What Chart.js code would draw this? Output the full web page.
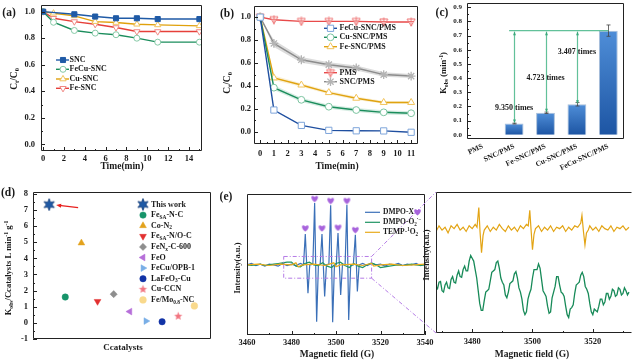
<!DOCTYPE html>
<html>
<head>
<meta charset="utf-8">
<script src="https://cdn.jsdelivr.net/npm/chart.js@4.4.1/dist/chart.umd.min.js"></script>
<style>
body{margin:0;background:#fff}
#fig{position:relative;width:633px;height:363px;overflow:hidden;background:#fff}
canvas{position:absolute}
</style>
</head>
<body>
<div id="fig">
<canvas id="ca" width="215" height="185" style="left:0;top:0"></canvas>
<canvas id="cb" width="210" height="185" style="left:215px;top:0"></canvas>
<canvas id="cc" width="208" height="185" style="left:425px;top:0"></canvas>
<canvas id="cd" width="217" height="178" style="left:0;top:185px"></canvas>
<canvas id="ce2" width="218" height="178" style="left:415px;top:185px"></canvas>
<canvas id="ce1" width="222" height="178" style="left:215px;top:185px"></canvas>
</div>
<script>
// (a) adsorption, Ct/C0 vs time
const tA = [0, 1, 3, 5, 7, 9, 11, 15];
const sncA = [1.0, null, 0.98, 0.963, 0.95, 0.95, 0.944, 0.944];
const fecuA = [1.0, 0.92, 0.858, 0.838, 0.826, 0.80, 0.77, 0.77];
const cuA = [1.0, 0.988, 0.968, 0.925, 0.918, 0.905, 0.90, 0.893];
const feA = [1.0, 0.95, 0.925, 0.905, 0.88, 0.85, 0.85, 0.85];

// (b) degradation with PMS
const tB = [0, 1, 3, 5, 7, 9, 11];
const pmsB = [1.0, 0.978, 0.963, 0.963, 0.963, 0.958, 0.958];
const sncB = [1.0, 0.771, 0.629, 0.586, 0.557, 0.50, 0.487];
const feB = [1.0, 0.471, 0.409, 0.343, 0.294, 0.257, 0.257];
const cuB = [1.0, 0.386, 0.28, 0.22, 0.191, 0.171, 0.163];
const fecuB = [1.0, 0.191, 0.057, 0.014, 0.01, 0.009, -0.003];
const sncErrB = [0, 0.03, 0.025, 0.022, 0.022, 0.02, 0.018];
const feErrB = [0, 0.02, 0.015, 0.015, 0.015, 0.012, 0.012];
const cuErrB = [0, 0.02, 0.018, 0.018, 0.018, 0.018, 0.018];

// (c) rate constants
const cats = ['PMS', 'SNC/PMS', 'Fe-SNC/PMS', 'Cu-SNC/PMS', 'FeCu-SNC/PMS'];
const kobs = [0, 0.079, 0.155, 0.215, 0.735];
const kErr = [0, 0.003, 0.005, 0.012, 0.04];
const ratioText = ['9.350 times', '4.723 times', '3.407 times'];

// (d) comparison with literature
const refNames = ['This work', 'FeSA-N-C', 'Co-N2', 'FeSA-N/O-C', 'FeNx-C-600', 'FeO', 'FeCu/OPB-1', 'LaFeO3-Cu', 'Cu-CCN', 'Fe/Mo0.8-NC'];
const refK = [7.33, 1.6, 4.95, 1.33, 1.78, 0.7, 0.11, 0.07, 0.41, 1.05];

// (e) EPR, full sweep
const dxG = [3460,3462,3464,3466,3468,3470,3472,3474,3476,3478,3480,3482,3484,3485.4,3486.2,3487.4,3488.2,3489.6,3490.4,3491.3,3492.1,3492.9,3493.7,3494.9,3495.7,3496.8,3497.6,3498.5,3499.3,3500.1,3500.9,3502.1,3502.9,3504.1,3504.9,3505.7,3506.6,3507.8,3508.7,3509.6,3510.4,3512,3514,3516,3518,3520,3522,3524,3526,3528,3530,3532,3534,3536,3538,3540];
const dxY = [0,0.02,-0.01,0.01,-0.02,0.01,0,-0.02,0.02,-0.01,0.01,-0.01,0.02,0,0.46,-0.425,0,0.01,0.925,-0.85,0,0.01,0.46,-0.475,0,0.01,0.89,-0.86,0,0,0.475,-0.45,0,0.01,0.9,-0.825,0,0,0.45,-0.4,0,0.02,-0.01,0.02,0,0.01,-0.02,0.01,0,0.02,-0.01,0.01,0,0.02,-0.01,0.01];
const doG = [3460,3462,3464,3466,3468,3470,3472,3474,3476,3478,3480,3482,3484,3486,3488,3490,3492,3494,3496,3498,3500,3502,3504,3506,3508,3510,3512,3514,3516,3518,3520,3522,3524,3526,3528,3530,3532,3534,3536,3538,3540];
const doY = [0,-0.01,0,0.01,-0.01,0,0.01,0.02,0.03,0.04,0.04,-0.02,-0.03,0.02,0.04,0,-0.01,0.03,-0.02,-0.04,0.02,0.04,-0.01,-0.04,0.02,-0.02,-0.04,0,0.03,0,-0.04,-0.03,-0.02,-0.01,0,-0.01,0,0.01,0,-0.01,0];
const tpG = [3460,3465,3470,3475,3480,3482,3483,3485,3490,3495,3499,3500,3502,3508,3512,3516,3517,3520,3525,3530,3535,3540];
const tpY = [0,0.01,-0.01,0.01,0,0.03,-0.03,0,0.01,-0.01,0.03,-0.03,0,0.01,-0.01,0.02,-0.02,0,0.01,-0.01,0,0.01];
const heartG = [3486.2, 3490.4, 3493.7, 3497.6, 3500.9, 3504.9, 3508.7];
const heartY = [0.55, 0.99, 0.55, 0.96, 0.56, 0.96, 0.525];

// (e) EPR, zoomed window
const zStart = 3468, zStep = 0.5;
const zGreen = [3.3,3.15,3.6,3.65,3.0,2.9,3.4,3.6,3.2,3.15,3.8,4.0,3.6,3.55,4.1,4.4,4.0,3.95,4.5,4.75,4.4,4.4,5.1,5.5,5.3,5.1,4.5,3.9,3.0,2.1,1.6,1.6,2.3,2.9,3.0,3.1,3.7,4.3,4.4,4.5,5.0,5.1,4.6,3.9,3.6,3.4,2.7,2.5,2.9,3.5,3.6,3.7,4.2,4.35,3.9,3.2,2.9,2.4,1.6,1.3,1.5,2.4,2.8,3.1,3.9,4.5,4.5,4.5,4.9,4.6,3.8,3.0,2.8,2.6,1.9,1.4,1.5,2.5,2.9,3.3,4.0,4.0,3.4,2.9,2.8,2.6,1.9,1.3,1.1,1.7,1.8,2.0,2.8,3.4,3.5,3.6,4.1,4.3,4.0,3.3,3.1,2.8,2.1,1.5,1.3,1.7,1.6,1.5,1.9,2.4,2.4,2.0,2.2,2.8,2.8,2.4,2.6,3.1,3.0,2.6,2.7,3.2,3.1,2.7,2.8,3.2,3.0,2.7,2.9];
const zOrG = [3468,3469,3470,3471,3472,3473,3474,3475,3476,3477,3478,3479,3480,3481,3481.6,3482.2,3482.6,3483.1,3483.6,3484,3485,3486,3487,3488,3489,3490,3491,3492,3493,3494,3495,3496,3497,3498,3498.6,3499.1,3499.5,3500,3500.5,3501,3502,3503,3504,3505,3506,3507,3508,3509,3510,3511,3512,3513,3514,3515,3516,3516.4,3516.9,3517.4,3517.9,3518.5,3519,3520,3521,3522,3523,3524,3525,3526,3527,3528,3529,3530,3531,3532];
const zOrY = [7.2,7.6,7.3,7.5,7.1,7.6,7.4,7.7,7.3,7.5,7.2,7.6,7.4,7.7,7.5,8.9,7.2,5.7,6.9,7.3,7.6,7.2,7.5,7.3,7.7,7.4,7.2,7.6,7.3,7.5,7.2,7.6,7.4,7.7,7.6,8.7,7.4,5.9,7.0,7.4,7.6,7.2,7.5,7.3,7.6,7.2,7.5,7.4,7.6,7.2,7.5,7.3,7.6,7.5,7.8,8.35,7.2,6.25,7.1,7.3,7.6,7.3,7.5,7.2,7.6,7.4,7.3,7.6,7.2,7.5,7.4,7.6,7.3,7.5];

const F = '"Liberation Serif", "Times New Roman", serif';
Chart.defaults.font.family = F;
Chart.defaults.font.weight = 'bold';
Chart.defaults.color = '#1a1a1a';
Chart.defaults.animation = false;
Chart.defaults.responsive = false;
Chart.defaults.devicePixelRatio = 1;
Chart.defaults.plugins.legend.display = false;
Chart.defaults.plugins.tooltip.enabled = false;

const pts = (xs, ys) => xs.map((x, i) => ({ x: x, y: ys[i] }));
const every = m => v => Math.abs(v / m - Math.round(v / m)) < 1e-6;
const noGrid = { display: false, drawTicks: false };
// fixed axis boxes so each plot frame lands where the reference has it
const fitW = w => s => { s.width = w; s.paddingTop = 0; s.paddingBottom = 0; s.paddingLeft = 0; s.paddingRight = 0; };
const fitH = h => s => { s.height = h; s.paddingTop = 0; s.paddingBottom = 0; s.paddingLeft = 0; s.paddingRight = 0; };

function mkImg(w, h, draw) {
  const c = document.createElement('canvas');
  c.width = w; c.height = h;
  draw(c.getContext('2d'), w, h);
  return c;
}
function starImg(n, R, r, fill, stroke) {
  const s = Math.ceil(2 * R + 2);
  return mkImg(s, s, g => {
    g.beginPath();
    for (let k = 0; k < 2 * n; k++) {
      const ang = -Math.PI / 2 + k * Math.PI / n, rr = k % 2 ? r : R;
      g.lineTo(s / 2 + rr * Math.cos(ang), s / 2 + rr * Math.sin(ang));
    }
    g.closePath(); g.fillStyle = fill; g.fill();
    if (stroke) { g.strokeStyle = stroke; g.lineWidth = 0.8; g.stroke(); }
  });
}
const heartImg = mkImg(9, 8, g => {
  g.fillStyle = '#a763dc';
  g.beginPath();
  g.moveTo(4.5, 7.6);
  g.bezierCurveTo(-0.6, 4, 0.8, -0.9, 4.5, 2.2);
  g.bezierCurveTo(8.2, -0.9, 9.6, 4, 4.5, 7.6);
  g.fill();
});
const pmsImg = mkImg(10, 10, g => {
  g.strokeStyle = '#ee7272'; g.fillStyle = '#fff'; g.lineWidth = 1;
  g.beginPath(); g.moveTo(1, 2); g.lineTo(9, 2); g.lineTo(5, 9); g.closePath(); g.fill(); g.stroke();
  g.beginPath(); g.moveTo(5, 0.5); g.lineTo(5, 9.5); g.moveTo(2, 4.5); g.lineTo(8, 4.5); g.stroke();
});
const star6 = starImg(6, 6, 2.8, '#1f5aa6', '#173f7a');
const star5 = starImg(5, 4.4, 1.9, '#f27480', null);

function rich(ctx, parts, x, y, size, opt) {
  opt = opt || {};
  ctx.save();
  ctx.translate(x, y);
  if (opt.rot) ctx.rotate(opt.rot);
  const segs = parts.map(p => typeof p === 'string' ? { t: p, m: '' } : { t: p[0], m: p[1] });
  const fnt = m => 'bold ' + (m ? size * 0.68 : size) + 'px ' + F;
  let w = 0;
  segs.forEach(s => { ctx.font = fnt(s.m); s.w = ctx.measureText(s.t).width; w += s.w; });
  let cx = opt.align === 'left' ? 0 : opt.align === 'right' ? -w : -w / 2;
  ctx.textAlign = 'left'; ctx.textBaseline = 'middle';
  ctx.fillStyle = opt.color || '#1a1a1a';
  segs.forEach(s => {
    ctx.font = fnt(s.m);
    const dy = s.m === 'sub' ? size * 0.28 : s.m === 'sup' ? -size * 0.32 : 0;
    ctx.fillText(s.t, cx, dy);
    cx += s.w;
  });
  ctx.restore();
}

function box(chart, sides) {
  sides = sides || 'ltrb';
  const a = chart.chartArea, ctx = chart.ctx;
  const l = Math.round(a.left) + 0.5, r = Math.round(a.right) - 0.5;
  const t = Math.round(a.top) + 0.5, b = Math.round(a.bottom) - 0.5;
  ctx.save(); ctx.strokeStyle = '#222'; ctx.lineWidth = 1; ctx.beginPath();
  if (sides.includes('l')) { ctx.moveTo(l, t); ctx.lineTo(l, b); }
  if (sides.includes('r')) { ctx.moveTo(r, t); ctx.lineTo(r, b); }
  if (sides.includes('t')) { ctx.moveTo(l, t); ctx.lineTo(r, t); }
  if (sides.includes('b')) { ctx.moveTo(l, b); ctx.lineTo(r, b); }
  ctx.stroke(); ctx.restore();
}

function ticksOn(chart, id, from, to, step, isMajor, maj, min) {
  maj = maj || 4; min = min || 2;
  const s = chart.scales[id], a = chart.chartArea, ctx = chart.ctx;
  ctx.save(); ctx.strokeStyle = '#222'; ctx.lineWidth = 1; ctx.beginPath();
  const n = Math.round((to - from) / step);
  for (let k = 0; k <= n; k++) {
    const v = from + k * step;
    const len = isMajor(v) ? maj : min;
    const p = Math.round(s.getPixelForValue(v)) + 0.5;
    if (s.isHorizontal()) { ctx.moveTo(p, a.bottom); ctx.lineTo(p, a.bottom - len); }
    else { ctx.moveTo(a.left, p); ctx.lineTo(a.left + len, p); }
  }
  ctx.stroke(); ctx.restore();
}

function legendRow(chart, label, o) {
  const ctx = chart.ctx;
  const ds = chart.data.datasets.find(d => d.label === label);
  if (o.x1 > o.x0) {
    ctx.save(); ctx.strokeStyle = ds.borderColor; ctx.lineWidth = ds.borderWidth || 1.4;
    ctx.beginPath(); ctx.moveTo(o.x0, o.y); ctx.lineTo(o.x1, o.y); ctx.stroke(); ctx.restore();
  }
  if (o.mx != null && ds.pointStyle) {
    ctx.save();
    ctx.fillStyle = ds.pointBackgroundColor; ctx.strokeStyle = ds.pointBorderColor;
    ctx.lineWidth = ds.pointBorderWidth || 1;
    Chart.helpers.drawPoint(ctx, { pointStyle: ds.pointStyle, rotation: ds.pointRotation || 0, radius: ds.pointRadius, borderWidth: ds.pointBorderWidth || 1 }, o.mx, o.y);
    ctx.restore();
  }
  rich(ctx, o.parts, o.tx, o.y, o.size, { align: 'left' });
}

function head(ctx, x, y, dir, w, h) {
  ctx.beginPath();
  ctx.moveTo(x, y);
  ctx.lineTo(x - w / 2, y - dir * h);
  ctx.lineTo(x + w / 2, y - dir * h);
  ctx.closePath(); ctx.fill();
}

const deco = draw => ({ id: 'deco', afterDraw: chart => { chart.ctx.save(); draw(chart, chart.ctx); chart.ctx.restore(); } });

function lineDs(label, xs, ys, st) {
  return Object.assign({ label: label, data: pts(xs, ys), borderWidth: 1.4, tension: 0, spanGaps: true, pointBorderWidth: 1 }, st);
}

// ---------- (a)
new Chart(document.getElementById('ca'), {
  type: 'line',
  data: {
    datasets: [
      lineDs('SNC', tA, sncA, { borderColor: '#1f5aa6', pointStyle: 'rect', pointRadius: 3.6, pointBackgroundColor: '#1f5aa6', pointBorderColor: '#1f5aa6' }),
      lineDs('FeCu-SNC', tA, fecuA, { borderColor: '#1b8d5c', pointStyle: 'circle', pointRadius: 3, pointBackgroundColor: '#fff', pointBorderColor: '#86c9a6' }),
      lineDs('Cu-SNC', tA, cuA, { borderColor: '#e0a10c', pointStyle: 'triangle', pointRadius: 3.6, pointBackgroundColor: '#fff', pointBorderColor: '#f0c35c' }),
      lineDs('Fe-SNC', tA, feA, { borderColor: '#e6403a', pointStyle: 'triangle', pointRotation: 180, pointRadius: 3.6, pointBackgroundColor: '#fff', pointBorderColor: '#f08984' })
    ]
  },
  options: {
    layout: { padding: { left: 0, top: 4, right: 13, bottom: 0 } },
    scales: {
      x: { type: 'linear', min: -0.2, max: 15.25, afterFit: fitH(34), grid: noGrid, border: { display: false },
        ticks: { stepSize: 2, includeBounds: false, padding: 3, font: { size: 8.5 } } },
      y: { min: -0.05, max: 1.05, afterFit: fitW(41), grid: noGrid, border: { display: false },
        ticks: { stepSize: 0.2, includeBounds: false, padding: 6, font: { size: 8.5 }, callback: v => v.toFixed(1) } }
    }
  },
  plugins: [deco((chart, ctx) => {
    box(chart);
    ticksOn(chart, 'x', 0, 15, 1, every(2));
    ticksOn(chart, 'y', 0, 1, 0.1, every(0.2));
    rich(ctx, ['(a)'], 9, 13, 11.5);
    rich(ctx, ['Time(min)'], 122, 167, 9.5);
    rich(ctx, ['C', ['t', 'sub'], '/C', ['0', 'sub']], 15, 79, 9.5, { rot: -Math.PI / 2 });
    const rows = [['SNC', 60], ['FeCu-SNC', 69.3], ['Cu-SNC', 79], ['Fe-SNC', 88.3]];
    rows.forEach(r => legendRow(chart, r[0], { x0: 56, x1: 69, mx: 63, tx: 69.5, y: r[1], parts: [r[0]], size: 8 }));
  })]
});

// ---------- (b)
const band = (ys, err, sign) => ys.map((v, i) => v + sign * err[i]);
new Chart(document.getElementById('cb'), {
  type: 'line',
  data: {
    datasets: [
      lineDs('FeCu-SNC/PMS', tB, fecuB, { borderColor: '#1f4fa0', pointStyle: 'rect', pointRadius: 4.4, pointBackgroundColor: '#fff', pointBorderColor: '#7ea5da' }),
      lineDs('Cu-SNC/PMS', tB, cuB, { borderColor: '#1b8d5c', pointStyle: 'circle', pointRadius: 3.4, pointBackgroundColor: '#fff', pointBorderColor: '#7cc4a0' }),
      lineDs('Fe-SNC/PMS', tB, feB, { borderColor: '#e0a310', pointStyle: 'triangle', pointRadius: 4, pointBackgroundColor: '#fff', pointBorderColor: '#f2c35a' }),
      lineDs('PMS', tB, pmsB, { borderColor: '#e84a4a', pointStyle: pmsImg, pointRadius: 4 }),
      lineDs('SNC/PMS', tB, sncB, { borderColor: '#8c8c8c', pointStyle: 'star', pointRadius: 4.4, pointBorderWidth: 1.3, pointBackgroundColor: '#fff', pointBorderColor: '#b4b4b4' }),
      { label: 'sncUp', data: pts(tB, band(sncB, sncErrB, 1)), borderWidth: 0, pointRadius: 0, fill: '+1', backgroundColor: 'rgba(140,140,140,0.3)' },
      { label: 'sncLo', data: pts(tB, band(sncB, sncErrB, -1)), borderWidth: 0, pointRadius: 0 },
      { label: 'cuUp', data: pts(tB, band(cuB, cuErrB, 1)), borderWidth: 0, pointRadius: 0, fill: '+1', backgroundColor: 'rgba(30,150,95,0.18)' },
      { label: 'cuLo', data: pts(tB, band(cuB, cuErrB, -1)), borderWidth: 0, pointRadius: 0 },
      { label: 'feUp', data: pts(tB, band(feB, feErrB, 1)), borderWidth: 0, pointRadius: 0, fill: '+1', backgroundColor: 'rgba(230,170,30,0.18)' },
      { label: 'feLo', data: pts(tB, band(feB, feErrB, -1)), borderWidth: 0, pointRadius: 0 }
    ]
  },
  options: {
    layout: { padding: { left: 0, top: 3, right: 7, bottom: 0 } },
    scales: {
      x: { type: 'linear', min: -0.45, max: 11.5, afterFit: fitH(41), grid: noGrid, border: { display: false },
        ticks: { stepSize: 1, includeBounds: false, padding: 5, font: { size: 8.5 } } },
      y: { min: -0.105, max: 1.1, afterFit: fitW(39), grid: noGrid, border: { display: false },
        ticks: { stepSize: 0.2, includeBounds: false, padding: 3, font: { size: 8.5 }, callback: v => v.toFixed(1) } }
    }
  },
  plugins: [deco((chart, ctx) => {
    box(chart);
    ticksOn(chart, 'x', 0, 11, 0.5, every(1));
    ticksOn(chart, 'y', 0, 1, 0.1, every(0.2));
    rich(ctx, ['(b)'], 12, 14, 11.5);
    rich(ctx, ['Time(min)'], 122, 167, 9.5);
    rich(ctx, ['C', ['t', 'sub'], '/C', ['0', 'sub']], 13, 83, 9.5, { rot: -Math.PI / 2 });
    const rows = [['FeCu-SNC/PMS', 28.3], ['Cu-SNC/PMS', 37.3], ['Fe-SNC/PMS', 46.7], ['PMS', 72.7], ['SNC/PMS', 81.7]];
    rows.forEach(r => legendRow(chart, r[0], { x0: 109, x1: 122, mx: 115.5, tx: 124.5, y: r[1], parts: [r[0]], size: 8 }));
  })]
});

// ---------- (c)
new Chart(document.getElementById('cc'), {
  type: 'bar',
  data: {
    labels: cats,
    datasets: [{
      label: 'kobs', data: kobs, borderColor: '#a9bfd9', borderWidth: 1, barPercentage: 0.6, categoryPercentage: 1,
      backgroundColor: c => {
        const ch = c.chart, ys = ch.scales.y;
        if (!ys || c.raw == null) return '#2f6cb8';
        const y0 = ys.getPixelForValue(c.raw), y1 = ys.getPixelForValue(0);
        if (!isFinite(y0) || !isFinite(y1) || y0 === y1) return '#2f6cb8';
        const g = ch.ctx.createLinearGradient(0, y0, 0, y1);
        g.addColorStop(0, '#4f8ed8'); g.addColorStop(1, '#1d55a3');
        return g;
      }
    }]
  },
  options: {
    layout: { padding: { left: 0, top: 3, right: 9, bottom: 0 } },
    scales: {
      x: { afterFit: fitH(46), grid: noGrid, border: { display: false },
        ticks: { minRotation: 25, maxRotation: 25, autoSkip: false, padding: 3, font: { size: 7.5 } } },
      y: { min: -0.03, max: 0.93, afterFit: fitW(42), grid: noGrid, border: { display: false },
        ticks: { stepSize: 0.1, includeBounds: false, padding: 5, font: { size: 7 }, callback: v => v.toFixed(1) } }
    }
  },
  plugins: [deco((chart, ctx) => {
    const xs = chart.scales.x, ys = chart.scales.y;
    box(chart);
    ticksOn(chart, 'y', 0, 0.9, 0.05, every(0.1));
    ctx.strokeStyle = '#444'; ctx.lineWidth = 0.8;
    kobs.forEach((v, i) => {
      if (!kErr[i]) return;
      const x = Math.round(xs.getPixelForValue(i)) + 0.5;
      const y0 = ys.getPixelForValue(v - kErr[i]), y1 = ys.getPixelForValue(v + kErr[i]);
      ctx.beginPath();
      ctx.moveTo(x, y0); ctx.lineTo(x, y1);
      ctx.moveTo(x - 2, y0); ctx.lineTo(x + 2, y0);
      ctx.moveTo(x - 2, y1); ctx.lineTo(x + 2, y1);
      ctx.stroke();
    });
    const top = ys.getPixelForValue(kobs[4]);
    ctx.strokeStyle = 'rgba(70,182,136,0.85)'; ctx.fillStyle = 'rgba(55,165,120,0.95)'; ctx.lineWidth = 1.2;
    ctx.beginPath(); ctx.moveTo(xs.getPixelForValue(1) - 5, top); ctx.lineTo(xs.getPixelForValue(4), top); ctx.stroke();
    const textY = [108.3, 78.3, 51.7];
    for (let i = 1; i <= 3; i++) {
      const x = Math.round(xs.getPixelForValue(i)) + 0.5, yb = ys.getPixelForValue(kobs[i]);
      ctx.beginPath(); ctx.moveTo(x, top + 1); ctx.lineTo(x, yb - 1); ctx.stroke();
      head(ctx, x, top + 1, -1, 3, 3.5);
      head(ctx, x, yb - 0.5, 1, 3, 3.5);
      rich(ctx, [ratioText[i - 1]], xs.getPixelForValue(i), textY[i - 1], 8);
    }
    rich(ctx, ['(c)'], 17, 13, 11.5);
    rich(ctx, ['K', ['obs', 'sub'], ' (min', ['-1', 'sup'], ')'], 19, 73, 8.5, { rot: -Math.PI / 2 });
  })]
});

// ---------- (d)
const refStyle = [
  { ps: star6, r: 6, c: '#1f5aa6' },
  { ps: 'circle', r: 3.2, c: '#17946a' },
  { ps: 'triangle', r: 3.9, c: '#e3a21c' },
  { ps: 'triangle', rot: 180, r: 3.9, c: '#e23030' },
  { ps: 'rectRot', r: 3.6, c: '#8e8e8e' },
  { ps: 'triangle', rot: -90, r: 3.9, c: '#b66fd9' },
  { ps: 'triangle', rot: 90, r: 3.9, c: '#79aee6' },
  { ps: 'circle', r: 3.2, c: '#1233a6' },
  { ps: star5, r: 4, c: '#f27480' },
  { ps: 'circle', r: 3.4, c: '#f9d98c' }
];
const refLegend = [
  ['This work'],
  ['Fe', ['SA', 'sub'], '-N-C'],
  ['Co-N', ['2', 'sub']],
  ['Fe', ['SA', 'sub'], '-N/O-C'],
  ['FeN', ['x', 'sub'], '-C-600'],
  ['FeO'],
  ['FeCu/OPB-1'],
  ['LaFeO', ['3', 'sub'], '-Cu'],
  ['Cu-CCN'],
  ['Fe/Mo', ['0.8', 'sub'], '-NC']
];
new Chart(document.getElementById('cd'), {
  type: 'scatter',
  data: {
    datasets: refNames.map((n, i) => ({
      label: n, data: [{ x: i, y: refK[i] }],
      pointStyle: refStyle[i].ps, pointRadius: refStyle[i].r, pointRotation: refStyle[i].rot || 0,
      pointBackgroundColor: refStyle[i].c, pointBorderColor: refStyle[i].c, pointBorderWidth: 0.5
    }))
  },
  options: {
    layout: { padding: { left: 0, top: 5, right: 3, bottom: 0 } },
    scales: {
      x: { min: -1, max: 10, afterFit: fitH(24), grid: noGrid, border: { display: false }, ticks: { display: false } },
      y: { min: -1, max: 8.14, afterFit: fitW(33), grid: noGrid, border: { display: false },
        ticks: { stepSize: 1, includeBounds: false, padding: 5, font: { size: 8.5 } } }
    }
  },
  plugins: [deco((chart, ctx) => {
    box(chart);
    ticksOn(chart, 'y', -1, 8, 0.5, every(1));
    const star = chart.getDatasetMeta(0).data[0];
    ctx.strokeStyle = '#e8201e'; ctx.fillStyle = '#e8201e'; ctx.lineWidth = 1.2;
    ctx.beginPath(); ctx.moveTo(star.x + 29, star.y + 3); ctx.lineTo(star.x + 10, star.y + 0.8); ctx.stroke();
    ctx.save(); ctx.translate(star.x + 7, star.y + 0.5); ctx.rotate(Math.atan2(-2.2, -19) + Math.PI / 2);
    head(ctx, 0, 0, -1, 4, 5); ctx.restore();
    rich(ctx, ['(d)'], 8, 8, 11.5);
    rich(ctx, ['Ccatalysts'], 123, 163, 9);
    rich(ctx, ['K', ['obs', 'sub'], '/Ccatalysts L min', ['-1', 'sup'], ' g', ['-1', 'sup']], 9, 83, 8.5, { rot: -Math.PI / 2 });
    refNames.forEach((n, i) => legendRow(chart, n, { x0: 0, x1: 0, mx: 143, tx: 151, y: 19.5 + i * 10.6, parts: refLegend[i], size: 8 }));
  })]
});

// ---------- (e) zoomed window
new Chart(document.getElementById('ce2'), {
  type: 'line',
  data: {
    datasets: [
      { label: 'TEMP-1O2 zoom', data: pts(zOrG, zOrY), borderColor: '#e3a414', borderWidth: 1.2, pointRadius: 0, tension: 0 },
      { label: 'DMPO-O2 zoom', data: zGreen.map((v, i) => ({ x: zStart + i * zStep, y: v })), borderColor: '#178a58', borderWidth: 1.3, pointRadius: 0, tension: 0 }
    ]
  },
  options: {
    layout: { padding: { left: 0, top: 7, right: 1, bottom: 0 } },
    scales: {
      x: { type: 'linear', min: 3468, max: 3533, afterFit: fitH(30), grid: noGrid, border: { display: false },
        ticks: { stepSize: 10, includeBounds: false, padding: 4, font: { size: 8.5 }, callback: v => (v % 20 === 0 ? String(v) : '') } },
      y: { min: 0, max: 10, afterFit: fitW(21), grid: noGrid, border: { display: false }, ticks: { display: false } }
    }
  },
  plugins: [deco((chart, ctx) => {
    box(chart, 'ltb');
    ticksOn(chart, 'x', 3470, 3530, 10, every(20));
    rich(ctx, ['Intensity(a.u.)'], 12, 70, 8.5, { rot: -Math.PI / 2 });
    rich(ctx, ['Magnetic field (G)'], 117, 170, 9.5);
  })]
});

// ---------- (e) full sweep
new Chart(document.getElementById('ce1'), {
  type: 'line',
  data: {
    datasets: [
      { label: 'hearts', data: pts(heartG, heartY), showLine: false, pointStyle: heartImg, pointRadius: 4 },
      { label: 'TEMP-1O2', data: pts(tpG, tpY), borderColor: '#e8ab1c', borderWidth: 1.2, pointRadius: 0, tension: 0 },
      { label: 'DMPO-O2', data: pts(doG, doY), borderColor: '#1e9463', borderWidth: 1.2, pointRadius: 0, tension: 0 },
      { label: 'DMPO-X', data: pts(dxG, dxY), borderColor: '#3b70b8', borderWidth: 1.2, pointRadius: 0, tension: 0 }
    ]
  },
  options: {
    layout: { padding: { left: 0, top: 9, right: 12, bottom: 0 } },
    scales: {
      x: { type: 'linear', min: 3460, max: 3540, afterFit: fitH(28), grid: noGrid, border: { display: false },
        ticks: { stepSize: 20, padding: 3, font: { size: 8.5 }, callback: v => String(v) } },
      y: { min: -1.05, max: 1.06, afterFit: fitW(32), grid: noGrid, border: { display: false }, ticks: { display: false } }
    }
  },
  plugins: [deco((chart, ctx) => {
    const xs = chart.scales.x, ys = chart.scales.y;
    box(chart);
    ticksOn(chart, 'x', 3460, 3540, 10, every(20));
    const rx0 = xs.getPixelForValue(3476.5), rx1 = xs.getPixelForValue(3516);
    const ry0 = ys.getPixelForValue(0.125), ry1 = ys.getPixelForValue(-0.2);
    ctx.strokeStyle = '#b57be6'; ctx.lineWidth = 1; ctx.setLineDash([4, 2, 1, 2]);
    ctx.strokeRect(rx0, ry0, rx1 - rx0, ry1 - ry0);
    ctx.beginPath(); ctx.moveTo(rx1, ry0); ctx.lineTo(221, 7); ctx.moveTo(rx1, ry1); ctx.lineTo(221, 148); ctx.stroke();
    ctx.setLineDash([]);
    rich(ctx, ['(e)'], 11, 12, 11.5);
    rich(ctx, ['Intensity(a.u.)'], 23, 83, 8.5, { rot: -Math.PI / 2 });
    rich(ctx, ['Magnetic field (G)'], 122, 170, 9.5);
    legendRow(chart, 'DMPO-X', { x0: 150, x1: 165, tx: 168, y: 27.3, parts: ['DMPO-X'], size: 7.5 });
    legendRow(chart, 'DMPO-O2', { x0: 150, x1: 165, tx: 168, y: 37.3, parts: ['DMPO-O', ['2', 'sub'], ['·−', 'sup']], size: 7.5 });
    legendRow(chart, 'TEMP-1O2', { x0: 150, x1: 165, tx: 168, y: 47.3, parts: ['TEMP-', ['1', 'sup'], 'O', ['2', 'sub']], size: 7.5 });
    ctx.drawImage(heartImg, 198, 23);
  })]
});
</script>
</body>
</html>
